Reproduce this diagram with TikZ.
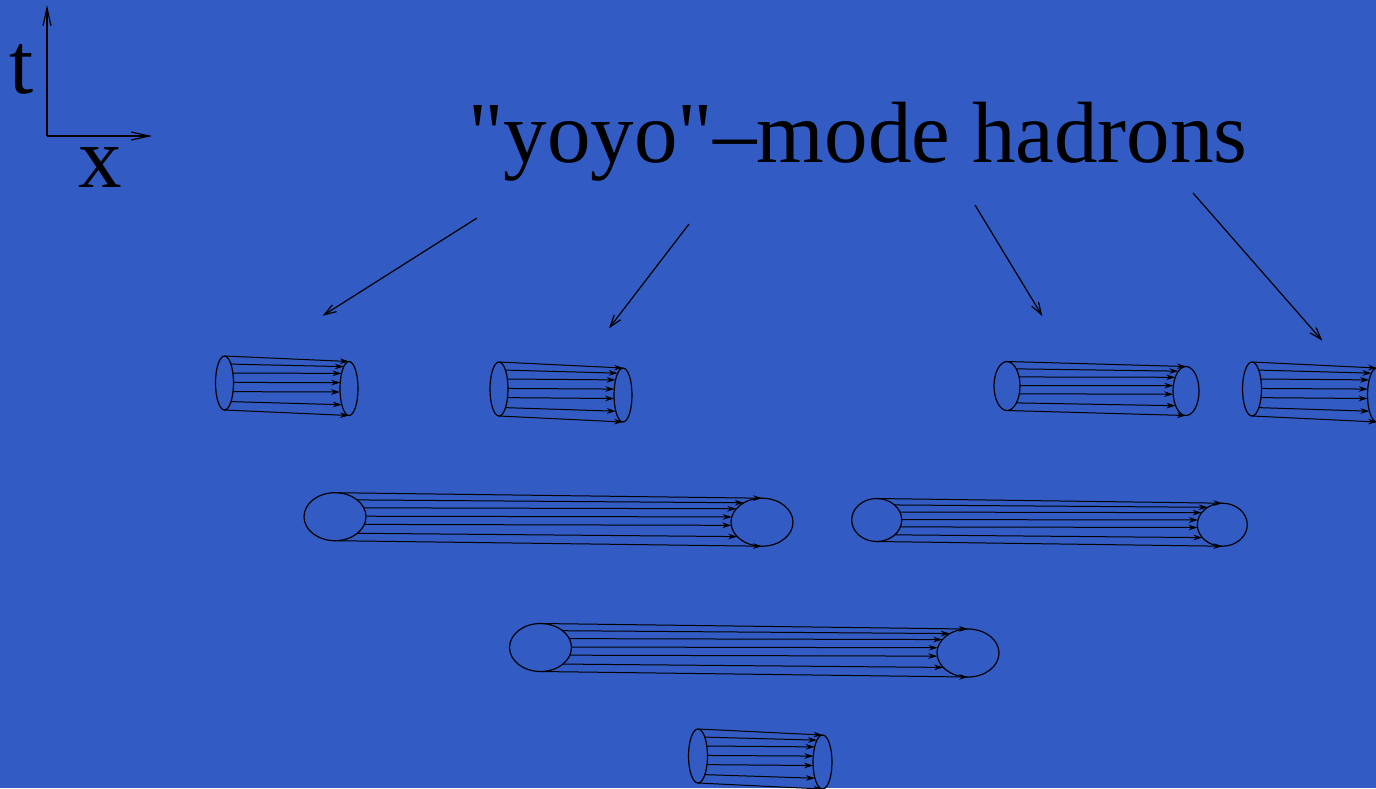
\documentclass[tikz,border=0pt]{standalone}
\usepackage{fontspec}
\setmainfont{Liberation Serif}[Ligatures=TeXOff]
\usepackage{tikz}
\usetikzlibrary{arrows.meta,positioning,calc}
\definecolor{slideBlue}{RGB}{50,91,196}

\begin{document}
\begin{tikzpicture}[
                x=0.5pt,y=-0.5pt,
                big/.style={font=\fontsize{43.5}{50}\selectfont,inner sep=0pt},
                axis/.style={line width=0.6pt,-{Straight Barb[length=9pt,width=4pt]}},
                pointer/.style={line width=0.6pt,-{Straight Barb[length=6pt,width=4pt]}},
                tubeend/.style={line width=0.6pt},
                rod/.style={line width=0.5pt,-{Stealth[length=4.5pt,width=2.8pt]}},
                pics/hadron/.style n args={4}{code={
                    % #1 length, #2 drop of the right end, #3/#4 radii of the ends
                    \draw[tubeend] (0,0) ellipse [x radius=#3,y radius=#4];
                    \draw[tubeend] (#1,#2) ellipse [x radius=#3,y radius=#4];
                    \foreach \v/\w in {-1/-1,-0.7/-0.81,-0.37/-0.56,-0.02/-0.22,0.32/0.13,0.69/0.6,1/1}
                        \draw[rod] ({#3*sqrt(1-(\v)*(\v))},{#4*\v}) -- ({#1-#3*sqrt(1-(\w)*(\w))},{#2+#4*\w});
                }}
            ]
                \fill[slideBlue] (0,0) rectangle (1376,788);
                \useasboundingbox (0,0) rectangle (1376,788);

                % space-time axes
                \coordinate (origin) at (47,136);
                \coordinate (tend) at (47,5);
                \coordinate (xend) at (152,136);
                \draw[axis] (origin) -- (tend);
                \draw[axis] (origin) -- (xend);
                \node[big,anchor=base] (tlabel) at (22,93) {t};
                \node[big,anchor=base] (xlabel) at (100,187) {x};

                \node[big,anchor=base] (title) at (858,162) {"yoyo"–mode hadrons};

                % string pieces
                \pic (h1) at (224.5,383) {hadron={124.5}{5.5}{9}{27}};
                \pic (h2) at (499,389) {hadron={124}{6}{9}{27}};
                \pic (h3) at (1007,386) {hadron={179}{5}{13}{24.5}};
                \pic (h4) at (1252,389) {hadron={125}{6}{9.5}{27}};
                \pic (h5) at (335,516.7) {hadron={427}{5.5}{31}{24}};
                \pic (h6) at (876.7,520) {hadron={345.6}{4.7}{25}{21.5}};
                \pic (h7) at (540.5,647.5) {hadron={427.5}{5.5}{31}{24}};
                \pic (h8) at (698,756) {hadron={124.5}{6}{9.5}{27}};

                % pointers from the title
                \coordinate (from1) at (477,218);
                \coordinate (to1) at (322.7,315.7);
                \coordinate (from2) at (689,224);
                \coordinate (to2) at (609,328.3);
                \coordinate (from3) at (975,205);
                \coordinate (to3) at (1042.3,316);
                \coordinate (from4) at (1193,193);
                \coordinate (to4) at (1322.3,340.7);
                \foreach \i in {1,...,4}
                    \draw[pointer] (from\i) -- (to\i);
            \end{tikzpicture}
\end{document}
